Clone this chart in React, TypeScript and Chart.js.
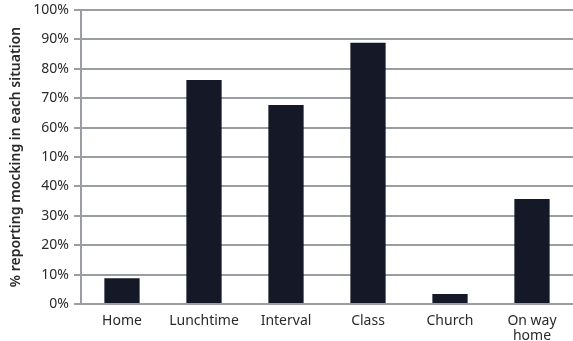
import React, { useEffect, useRef } from "react";
import { Chart, registerables } from "chart.js";

Chart.register(...registerables);

const categories: (string | string[])[] = ["Home", "Lunchtime", "Interval", "Class", "Church", ["On way", "home"]];
const values: number[] = [8.8, 76.2, 67.7, 88.9, 3.4, 35.7];
const yTickLabels: string[] = ["0%", "10%", "20%", "30%", "40%", "10%", "60%", "70%", "80%", "90%", "100%"];
const yTitle = "% reporting mocking in each situation";

export default function App() {
  const ref = useRef<HTMLCanvasElement | null>(null);
  useEffect(() => {
    if (!ref.current) return;
    const chart = new Chart(ref.current, {
      type: "bar",
      data: {
        labels: categories,
        datasets: [
          {
            data: values,
            backgroundColor: "#151826",
            barPercentage: 0.43,
            categoryPercentage: 1,
          },
        ],
      },
      options: {
        animation: false,
        responsive: false,
        maintainAspectRatio: false,
        layout: { padding: { top: 0, right: 0, left: 0, bottom: 0 } },
        plugins: { legend: { display: false }, tooltip: { enabled: false } },
        scales: {
          x: {
            grid: { display: false },
            border: { display: true, color: "#9a9ea2", width: 2 },
            ticks: {
              color: "#2a2a2a",
              font: { family: "Noto Sans", size: 14, lineHeight: 1.05 },
              maxRotation: 0,
              autoSkip: false,
              padding: 2,
            },
            afterFit: (s: any) => {
              s.height = 37;
            },
          },
          y: {
            min: 0,
            max: 100,
            ticks: {
              stepSize: 10,
              color: "#2a2a2a",
              font: { family: "Noto Sans", size: 14, lineHeight: 1.2 },
              padding: 5,
              callback: (v: any) => yTickLabels[Math.round(Number(v) / 10)],
            },
            grid: { color: "#9a9ea2", lineWidth: 2, tickLength: 7 },
            border: { display: true, color: "#9a9ea2", width: 2 },
            title: {
              display: true,
              text: yTitle,
              color: "#2a2a2a",
              font: { family: "Noto Sans", size: 14, weight: "600" },
              padding: { top: 8, bottom: 2 },
            },
            afterFit: (s: any) => {
              s.width = 81;
              s.paddingTop = 10;
            },
          },
        },
      },
    });
    return () => chart.destroy();
  }, []);
  return (
    <div style={{ position: "fixed", left: 0, top: 0, width: 573, height: 341, background: "#fff" }}>
      <canvas ref={ref} width={573} height={341} style={{ width: 573, height: 341, display: "block" }} />
    </div>
  );
}
